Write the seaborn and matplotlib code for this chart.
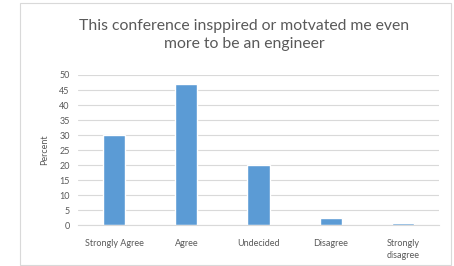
import matplotlib
matplotlib.use("Agg")
import matplotlib.pyplot as plt
import seaborn as sns
import pandas as pd
from matplotlib.patches import Rectangle

categories = ["Strongly Agree", "Agree", "Undecided", "Disagree", "Strongly\ndisagree"]
values = [30, 47, 20, 2.3, 0.8]
yticks = [0, 5, 10, 15, 20, 25, 30, 35, 40, 45, 50]
title = "This conference insppired or motvated me even\nmore to be an engineer"

sns.set_theme(style="white")
plt.rcParams['font.family'] = ['Lato', 'DejaVu Sans']

df = pd.DataFrame({"cat": categories, "val": values})

fig = plt.figure(figsize=(4.54, 2.66), dpi=100)
fig.patch.set_facecolor("white")
fig.patches.append(Rectangle((20/454, 1/266), 431/454, 262/266, transform=fig.transFigure,
                             fill=False, edgecolor="#D9D9D9", linewidth=0.8))
ax = fig.add_axes([78/454, (266-225.3)/266, 361/454, 150.3/266])
sns.barplot(data=df, x="cat", y="val", ax=ax, color="#5B9BD5", width=0.31, saturation=1)
ax.set_ylim(0, 50)
ax.set_yticks(yticks)
ax.set_yticklabels([str(t) for t in yticks], fontsize=6.5, color="#595959")
ax.tick_params(axis="x", labelsize=6.5, colors="#595959", length=0, pad=10)
ax.tick_params(axis="y", length=0, pad=6)
for lbl in ax.get_xticklabels():
    lbl.set_linespacing(1.4)
ax.yaxis.grid(True, color="#D9D9D9", linewidth=0.8)
ax.set_axisbelow(True)
for s in ["top", "right", "left"]:
    ax.spines[s].set_visible(False)
ax.spines["bottom"].set_color("#D9D9D9")
ax.spines["bottom"].set_linewidth(0.8)
ax.set_xlabel("")
ax.set_ylabel("Percent", fontsize=6.5, color="#595959", labelpad=7)
fig.text(244.5/454, 1 - 19/266, title, ha="center", va="top", fontsize=11.3, color="#595959", linespacing=1.4)
fig.savefig("out.png", dpi=100)
